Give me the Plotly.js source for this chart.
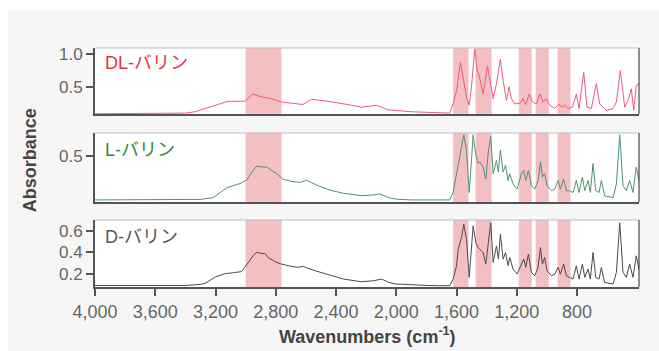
<!DOCTYPE html>
<html>
<head>
<meta charset="utf-8">
<script src="https://cdn.plot.ly/plotly-3.0.1.min.js"></script>
<style>
html,body{margin:0;padding:0;background:#ffffff;}
#chart{position:absolute;left:8px;top:10px;width:651px;height:341px;}
</style>
</head>
<body>
<div id="chart"></div>
<script>
// ---- data ----
const seriesNames = ["DL-バリン", "L-バリン", "D-バリン"];

const dlWavenumbers = [4000,3600,3400,3337,3200,3118,3005,2954,2900,2852,2762,2673,2620,2563,2454,2322,2231,2131,2056,1899,1711,1645,1623,1600,1574,1556,1534,1516,1501,1479,1463,1450,1424,1395,1379,1357,1335,1309,1291,1269,1251,1236,1214,1180,1158,1141,1118,1096,1070,1048,1026,1008,981,948,919,904,882,860,831,805,787,756,734,705,672,650,605,561,539,513,484,462,440,424,407,389];
const dlAbsorbance = [0.09,0.09,0.10,0.12,0.22,0.28,0.28,0.39,0.35,0.33,0.27,0.25,0.23,0.31,0.28,0.23,0.19,0.22,0.15,0.12,0.10,0.10,0.24,0.44,0.87,0.65,0.34,0.22,0.50,1.08,0.75,0.67,0.39,0.82,0.60,0.32,0.55,0.92,0.60,0.29,0.50,0.32,0.24,0.25,0.32,0.23,0.39,0.27,0.24,0.39,0.27,0.32,0.22,0.17,0.24,0.19,0.22,0.17,0.19,0.39,0.17,0.72,0.19,0.17,0.55,0.24,0.14,0.17,0.27,0.75,0.19,0.29,0.47,0.14,0.52,0.55];

const lHighWavenumbers = [4000,3700,3400,3300,3217,3126,3038,2994,2950,2927,2900,2861,2795,2753,2700,2640,2596,2520,2441,2350,2231,2150,2109,2050,1999,1900,1789];
const lHighAbsorbance = [0.10,0.10,0.10,0.105,0.12,0.21,0.25,0.28,0.37,0.41,0.40,0.40,0.34,0.29,0.27,0.26,0.28,0.23,0.19,0.16,0.14,0.145,0.155,0.12,0.107,0.10,0.10];

const dHighWavenumbers = [4000,3700,3400,3300,3270,3200,3138,3080,3027,2985,2950,2927,2900,2872,2850,2800,2762,2700,2651,2618,2587,2520,2454,2350,2231,2150,2098,2050,2010,1900,1789];
const dHighAbsorbance = [0.09,0.09,0.09,0.10,0.11,0.17,0.20,0.21,0.22,0.30,0.37,0.40,0.39,0.39,0.35,0.31,0.29,0.27,0.26,0.27,0.25,0.22,0.19,0.15,0.125,0.135,0.15,0.12,0.105,0.095,0.09];

const fingerprintWavenumbers = [1711,1645,1623,1612,1600,1589,1567,1552,1534,1516,1501,1490,1472,1457,1446,1424,1406,1390,1373,1357,1346,1335,1322,1309,1291,1275,1258,1247,1225,1198,1169,1154,1141,1123,1103,1081,1059,1043,1030,1015,999,970,948,926,911,889,871,849,827,805,787,765,749,727,712,694,676,654,639,617,561,539,517,495,473,451,429,407,389];
const lFingerprintAbsorbance = [0.10,0.10,0.17,0.246,0.33,0.432,0.556,0.695,0.556,0.168,0.463,0.695,0.509,0.432,0.447,0.401,0.292,0.525,0.680,0.339,0.401,0.463,0.354,0.556,0.354,0.416,0.277,0.339,0.246,0.199,0.339,0.370,0.277,0.370,0.230,0.199,0.277,0.447,0.308,0.339,0.230,0.184,0.199,0.277,0.199,0.292,0.184,0.184,0.168,0.277,0.168,0.308,0.184,0.277,0.168,0.432,0.184,0.168,0.277,0.137,0.122,0.246,0.695,0.230,0.184,0.277,0.168,0.401,0.277];
const dFingerprintAbsorbance = [0.088,0.088,0.150,0.21,0.274,0.429,0.538,0.662,0.522,0.166,0.429,0.647,0.491,0.445,0.429,0.398,0.290,0.491,0.677,0.305,0.383,0.460,0.336,0.569,0.336,0.398,0.274,0.352,0.243,0.197,0.290,0.336,0.259,0.383,0.212,0.181,0.259,0.445,0.290,0.352,0.228,0.181,0.197,0.259,0.197,0.290,0.181,0.166,0.150,0.274,0.150,0.290,0.166,0.243,0.150,0.398,0.166,0.150,0.259,0.119,0.104,0.212,0.677,0.212,0.166,0.290,0.166,0.367,0.243];

const bandStart = [3000,1623,1473,1187,1075,929];
const bandEnd   = [2762,1521,1367,1101,988,844];

const xTickValues = [4000,3600,3200,2800,2400,2000,1600,1200,800];
const xTickLabels = ["4,000","3,600","3,200","2,800","2,400","2,000","1,600","1,200","800"];
const y1Ticks = [0.5,1.0];
const y2Ticks = [0.5];
const y3Ticks = [0.2,0.4,0.6];

// ---- build ----
const lWavenumbers = lHighWavenumbers.concat(fingerprintWavenumbers);
const lAbsorbance = lHighAbsorbance.concat(lFingerprintAbsorbance);
const dWavenumbers = dHighWavenumbers.concat(fingerprintWavenumbers);
const dAbsorbance = dHighAbsorbance.concat(dFingerprintAbsorbance);

const lineColors = ["#ef5a7c","#4f9270","#4a4a4a"];
const labelColors = ["#e8333f","#2f8a3c","#555555"];

const traces = [
  {x: dlWavenumbers, y: dlAbsorbance, xaxis:'x', yaxis:'y', type:'scatter', mode:'lines', line:{color:lineColors[0], width:1}, hoverinfo:'skip'},
  {x: lWavenumbers, y: lAbsorbance, xaxis:'x2', yaxis:'y2', type:'scatter', mode:'lines', line:{color:lineColors[1], width:1}, hoverinfo:'skip'},
  {x: dWavenumbers, y: dAbsorbance, xaxis:'x3', yaxis:'y3', type:'scatter', mode:'lines', line:{color:lineColors[2], width:1}, hoverinfo:'skip'}
];

const yTickFont = {family:'"Liberation Sans", Arial, sans-serif', size:17, color:'#666666'};
const xTickFont = {family:'"Liberation Sans", Arial, sans-serif', size:18, color:'#666666'};
const axisColor = '#555555';
const xRange = [4000, 389];

function xAxis(anchor, showLabels){
  return {
    range: xRange, anchor: anchor, showgrid:false, zeroline:false,
    showline:true, linecolor:axisColor, linewidth:2,
    ticks: showLabels ? 'outside' : '', ticklen:7, tickwidth:2, tickcolor:axisColor,
    tickvals: xTickValues, ticktext: xTickLabels, showticklabels: showLabels,
    tickfont: xTickFont
  };
}
function yAxis(anchor, domain, range, tickvals){
  return {
    domain: domain, range: range, anchor: anchor, showgrid:false, zeroline:false,
    showline:true, linecolor:axisColor, linewidth:2,
    ticks:'outside', ticklen:7, tickwidth:2, tickcolor:axisColor,
    tickvals: tickvals, ticktext: tickvals.map(v => v.toFixed(1)),
    tickfont: yTickFont
  };
}

const shapes = [];
const axesIds = [['x','y'],['x2','y2'],['x3','y3']];
axesIds.forEach(([xa, ya]) => {
  for (let i = 0; i < bandStart.length; i++) {
    shapes.push({type:'rect', xref:xa, yref:ya+' domain', x0:bandStart[i], x1:bandEnd[i], y0:0, y1:1,
      fillcolor:'#f4bfc2', line:{width:0}, layer:'below'});
  }
  shapes.push({type:'line', xref:xa+' domain', yref:ya+' domain', x0:0, x1:1, y0:1, y1:1, line:{color:'#bdbdbd', width:1}});
  shapes.push({type:'line', xref:xa+' domain', yref:ya+' domain', x0:1, x1:1, y0:0, y1:1, line:{color:'#222222', width:1}});
});

const labelFont = (c) => ({family:'"Liberation Sans", "Noto Sans CJK JP", sans-serif', size:18, color:c});
const annotations = [
  {text: seriesNames[0], xref:'paper', yref:'paper', x:0.015, y:0.937, xanchor:'left', yanchor:'middle', showarrow:false, font:labelFont(labelColors[0])},
  {text: seriesNames[1], xref:'paper', yref:'paper', x:0.015, y:0.575, xanchor:'left', yanchor:'middle', showarrow:false, font:labelFont(labelColors[1])},
  {text: seriesNames[2], xref:'paper', yref:'paper', x:0.015, y:0.211, xanchor:'left', yanchor:'middle', showarrow:false, font:labelFont(labelColors[2])},
  {text:'Absorbance', xref:'paper', yref:'paper', x:-0.1195, y:0.53, xanchor:'center', yanchor:'middle', textangle:-90, showarrow:false,
   font:{family:'"Liberation Sans", Arial, sans-serif', size:18, color:'#444444', weight:'bold'}},
  {text:'Wavenumbers (cm<sup>-1</sup>)', xref:'paper', yref:'paper', x:0.5, y:-0.205, xanchor:'center', yanchor:'middle', showarrow:false,
   font:{family:'"Liberation Sans", Arial, sans-serif', size:18, color:'#444444', weight:'bold'}}
];

const layout = {
  width:651, height:341,
  margin:{l:87, r:20, t:38, b:64},
  paper_bgcolor:'#f6f6f6', plot_bgcolor:'#ffffff',
  showlegend:false,
  xaxis: xAxis('y', false),
  xaxis2: xAxis('y2', false),
  xaxis3: xAxis('y3', true),
  yaxis: yAxis('x', [0.7238, 1.0], [0.086, 1.091], y1Ticks),
  yaxis2: yAxis('x2', [0.3556, 0.6444], [0.081, 0.711], y2Ticks),
  yaxis3: yAxis('x3', [0.0, 0.2803], [0.076, 0.702], y3Ticks),
  shapes: shapes,
  annotations: annotations
};

Plotly.newPlot('chart', traces, layout, {displayModeBar:false, staticPlot:true});
</script>
</body>
</html>
